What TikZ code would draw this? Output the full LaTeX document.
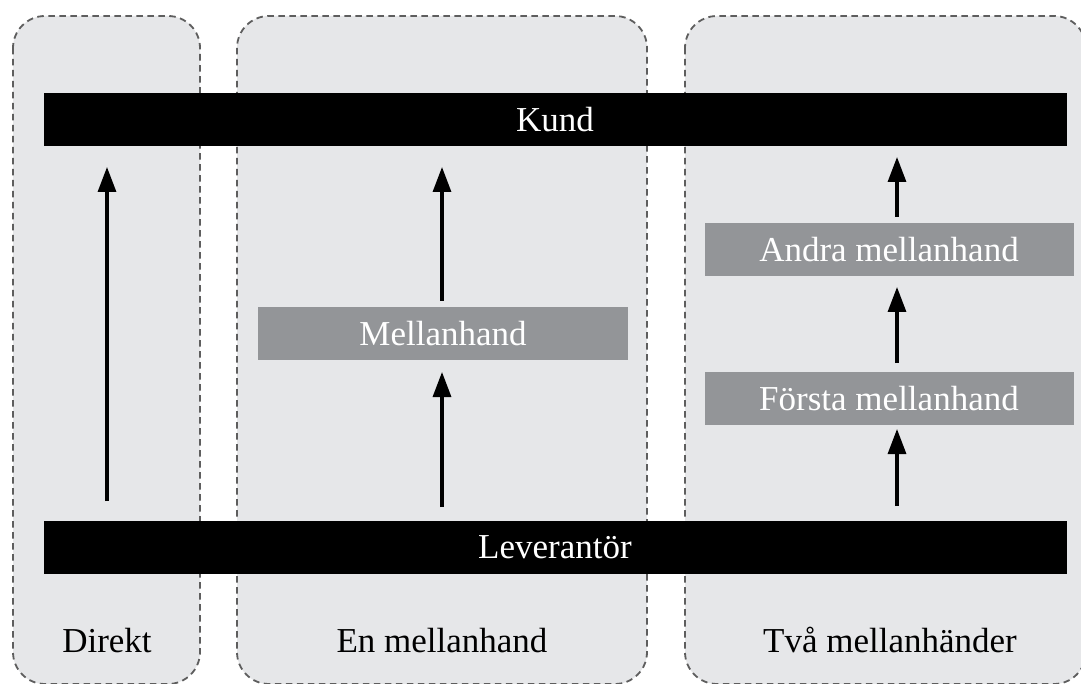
\documentclass[tikz,border=0pt]{standalone}
\usepackage{fontspec}
\setmainfont{Liberation Serif}
\usetikzlibrary{arrows.meta}
\definecolor{panelfill}{HTML}{E6E7E9}
\definecolor{paneledge}{HTML}{5E5E5E}
\definecolor{midgray}{HTML}{939598}
\tikzset{
  panel/.style={fill=panelfill, draw=paneledge, line width=1.8pt, dash pattern=on 6.5pt off 4.5pt, rounded corners=32pt},
  blackbar/.style={fill=black, draw=none, minimum height=53pt, inner sep=0pt, text=white, font=\fontsize{35}{38}\selectfont},
  graybox/.style={fill=midgray, draw=none, minimum height=53pt, inner sep=0pt, text=white, font=\fontsize{35}{38}\selectfont},
  caption/.style={anchor=base, font=\fontsize{35}{38}\selectfont},
  arr/.style={line width=3.2pt, -{Triangle[length=25pt,width=18pt]}}
}
\begin{document}
\begin{tikzpicture}[x=1pt,y=-1pt]
\clip (0,0) rectangle (1081,684);
\fill[white] (0,0) rectangle (1081,684);
% panels
\draw[panel] (13,16) rectangle (200,684);
\draw[panel] (237,16) rectangle (647,684);
\draw[panel] (685,16) rectangle (1086,684);
% bars
\node[blackbar, minimum width=1023pt] (kund) at (555,119.5) {Kund};
\node[blackbar, minimum width=1023pt] (lev) at (555,547) {Leverantör};
% gray boxes
\node[graybox, minimum width=370pt] (mell) at (443,333.5) {Mellanhand};
\node[graybox, minimum width=369pt] (andra) at (889,250) {Andra mellanhand};
\node[graybox, minimum width=369pt] (forsta) at (889,398.5) {Första mellanhand};
% captions
\node[caption] (c1) at (107,652) {Direkt};
\node[caption] (c2) at (442,652) {En mellanhand};
\node[caption] (c3) at (890,652) {Två mellanhänder};
% arrow anchor coordinates
\coordinate (a1s) at (107,501);
\coordinate (a1e) at (107,167);
\coordinate (b1s) at (442,507);
\coordinate (b1e) at (442,372);
\coordinate (b2s) at (442,301);
\coordinate (b2e) at (442,167);
\coordinate (d1s) at (897,506);
\coordinate (d1e) at (897,429);
\coordinate (d2s) at (897,363);
\coordinate (d2e) at (897,287);
\coordinate (d3s) at (897,217);
\coordinate (d3e) at (897,157);
% arrows
\draw[arr] (a1s) -- (a1e);
\draw[arr] (b1s) -- (b1e);
\draw[arr] (b2s) -- (b2e);
\draw[arr] (d1s) -- (d1e);
\draw[arr] (d2s) -- (d2e);
\draw[arr] (d3s) -- (d3e);
\end{tikzpicture}
\end{document}
